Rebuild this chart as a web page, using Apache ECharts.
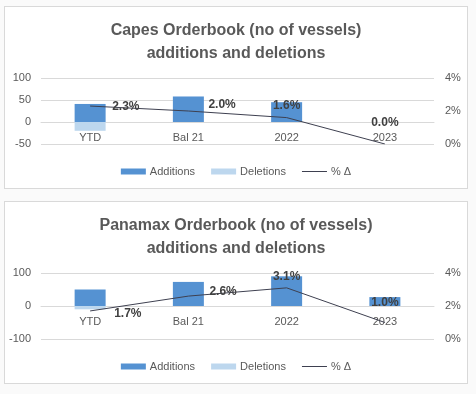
<!DOCTYPE html>
<html><head><meta charset="utf-8">
<script src="https://cdn.jsdelivr.net/npm/echarts@6/dist/echarts.min.js"></script>
<style>
html,body{margin:0;padding:0;background:#fafafa;width:476px;height:394px;overflow:hidden;}
.panel{position:absolute;left:4px;width:464px;height:183px;background:#fff;border:1px solid #d9d9d9;box-sizing:border-box;}
</style></head>
<body>
<div id="c1" class="panel" style="top:6px"></div>
<div id="c2" class="panel" style="top:201px"></div>
<script>
const categories = ['YTD', 'Bal 21', '2022', '2023'];
const capesAdditions = [41, 58, 45, 0];
const capesDeletions = [-20, 0, 0, 0];
const capesPct = [2.3, 2.0, 1.6, 0.0];
const panamaxAdditions = [50, 73, 90, 27];
const panamaxDeletions = [-10, 0, 0, 0];
const panamaxPct = [1.7, 2.6, 3.1, 1.0];
const capesLeftTicks = {min: -50, max: 100, interval: 50};
const panamaxLeftTicks = {min: -100, max: 100, interval: 100};
const pctTicks = {min: 0, max: 4, interval: 2};

function labelPlaced(values, places) {
  return values.map((v, i) => ({
    value: v,
    label: Object.assign({show: true}, places[i])
  }));
}

function build(el, title, adds, dels, pct, leftTicks, places) {
  const chart = echarts.init(document.getElementById(el), null, {renderer: 'canvas'});
  const axisText = {color: '#595959', fontSize: 11, fontFamily: 'Liberation Sans'};
  const gridHeight = 66;
  // place the category axis on the zero line of the left axis
  const zeroOffset = -(0 - leftTicks.min) / (leftTicks.max - leftTicks.min) * gridHeight;
  chart.setOption({
    animation: false,
    title: {
      text: title, left: 'center', top: 7,
      textStyle: {fontFamily: 'Liberation Sans', fontWeight: 'bold', fontSize: 16, color: '#595959', lineHeight: 23}
    },
    grid: {left: 36, right: 33, top: 71, height: gridHeight},
    legend: {
      top: 154, left: 'center', itemWidth: 25, itemHeight: 6, itemGap: 16,
      textStyle: {color: '#595959', fontSize: 11, fontFamily: 'Liberation Sans', padding: [0, 0, 0, -1]},
      data: [{name: 'Additions', icon: 'rect'}, {name: 'Deletions', icon: 'rect'},
             {name: '% Δ', icon: 'path://M0,0H25V1H0Z'}]
    },
    xAxis: {
      type: 'category', data: categories, offset: zeroOffset,
      axisLine: {show: true, onZero: false, lineStyle: {color: '#d9d9d9'}},
      axisTick: {show: false},
      axisLabel: Object.assign({margin: 10}, axisText)
    },
    yAxis: [
      Object.assign({type: 'value', position: 'left',
        axisLabel: Object.assign({margin: 10}, axisText),
        splitLine: {lineStyle: {color: '#d9d9d9'}},
        axisLine: {show: false}, axisTick: {show: false}}, leftTicks),
      Object.assign({type: 'value', position: 'right',
        axisLabel: Object.assign({margin: 11, formatter: '{value}%'}, axisText),
        splitLine: {show: false},
        axisLine: {show: false}, axisTick: {show: false}}, pctTicks)
    ],
    series: [
      {name: 'Additions', type: 'bar', stack: 's', barWidth: 31, data: adds,
        itemStyle: {color: '#5592d2'}},
      {name: 'Deletions', type: 'bar', stack: 's', barWidth: 31, data: dels,
        itemStyle: {color: '#bdd7ee'}},
      {name: '% Δ', type: 'line', yAxisIndex: 1, symbol: 'circle', symbolSize: 0.01, showSymbol: true,
        lineStyle: {color: '#3e4050', width: 1}, itemStyle: {color: '#3e4050'},
        data: labelPlaced(pct, places),
        label: {show: true, formatter: p => Number(p.value).toFixed(1) + '%', fontWeight: 'bold', fontSize: 12,
          color: '#404040', fontFamily: 'Liberation Sans'}}
    ]
  });
}

build('c1', 'Capes Orderbook (no of vessels)\nadditions and deletions',
  capesAdditions, capesDeletions, capesPct, capesLeftTicks,
  [{position: 'right', distance: 22, offset: [0, 1]},
   {position: 'right', distance: 20, offset: [0, -6]},
   {position: 'top', distance: 6},
   {position: 'top', distance: 15}]);

build('c2', 'Panamax Orderbook (no of vessels)\nadditions and deletions',
  panamaxAdditions, panamaxDeletions, panamaxPct, panamaxLeftTicks,
  [{position: 'right', distance: 24, offset: [0, 3]},
   {position: 'right', distance: 21, offset: [0, -4]},
   {position: 'top', distance: 5},
   {position: 'top', distance: 14}]);
</script>
</body></html>
